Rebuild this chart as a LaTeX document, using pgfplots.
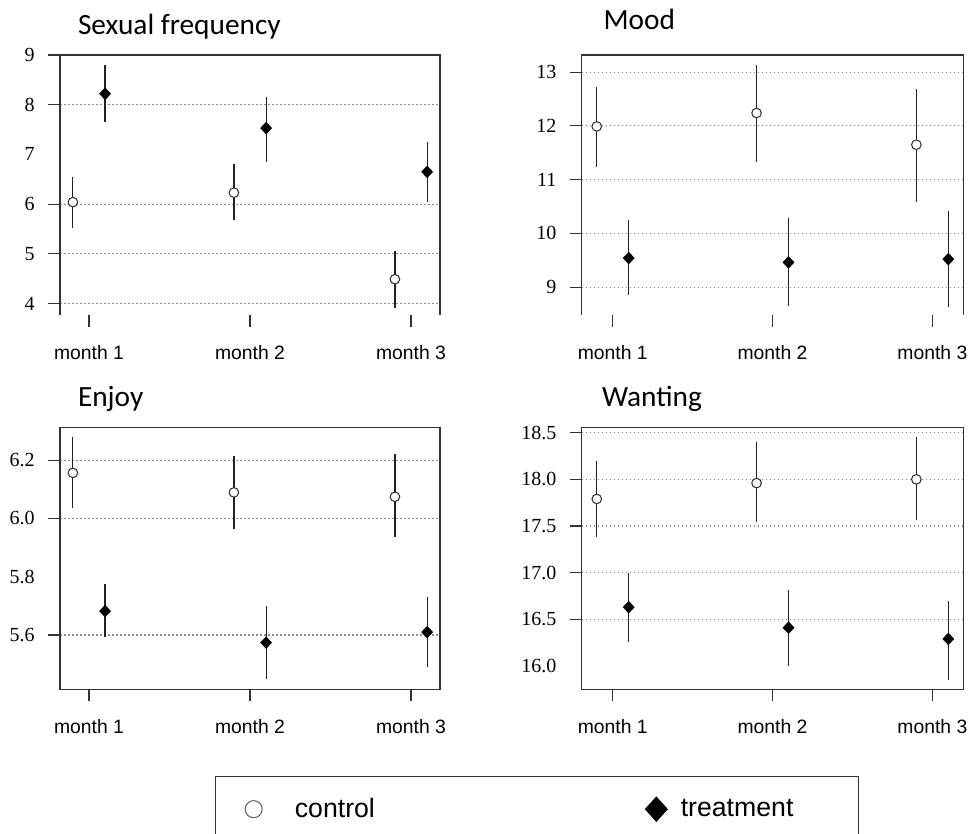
\documentclass[border=0pt]{standalone}
\usepackage{fontspec}
\setmainfont{Liberation Sans}
\newfontfamily\serifnum{Liberation Serif}
\newfontfamily\calib{Carlito}
\usepackage{pgfplots}
\usepackage{pgfplotstable}
\pgfplotsset{compat=1.18}
\definecolor{spine}{HTML}{333333}
\definecolor{gridc}{HTML}{8C8C8C}
\definecolor{ebar}{HTML}{222222}

% x, y, lo, hi
\pgfplotstableread{
x y lo hi
0.9 6.04 5.51 6.55
1.9 6.23 5.68 6.80
2.9 4.49 3.92 5.06
}\ctlA
\pgfplotstableread{
x y lo hi
1.1 8.22 7.65 8.80
2.1 7.53 6.85 8.16
3.1 6.65 6.05 7.24
}\trtA
\pgfplotstableread{
x y lo hi
0.9 11.99 11.23 12.73
1.9 12.24 11.33 13.14
2.9 11.65 10.58 12.69
}\ctlB
\pgfplotstableread{
x y lo hi
1.1 9.54 8.85 10.25
2.1 9.46 8.64 10.28
3.1 9.52 8.62 10.41
}\trtB
\pgfplotstableread{
x y lo hi
0.9 6.156 6.036 6.278
1.9 6.089 5.963 6.215
2.9 6.074 5.935 6.219
}\ctlC
\pgfplotstableread{
x y lo hi
1.1 5.682 5.592 5.774
2.1 5.574 5.448 5.699
3.1 5.610 5.491 5.729
}\trtC
\pgfplotstableread{
x y lo hi
0.9 17.79 17.38 18.20
1.9 17.96 17.54 18.40
2.9 18.00 17.56 18.45
}\ctlD
\pgfplotstableread{
x y lo hi
1.1 16.63 16.26 17.00
2.1 16.41 16.00 16.81
3.1 16.29 15.85 16.70
}\trtD

\pgfplotsset{
  panel/.style={
    scale only axis, anchor=south west, clip=false,
    xtick={1,2,3}, xticklabels={month 1, month 2, month 3},
    xtick pos=bottom, ytick pos=left,
    tick align=outside, major tick length=9pt,
    every tick/.style={spine, line width=0.8pt},
    ymajorgrids, grid style={gridc, line width=0.8pt, dash pattern=on 1.2pt off 1.8pt},
    axis line style={spine, line width=0.8pt},
    /pgf/number format/assume math mode=true,
    xticklabel style={font=\fontsize{14.5}{17}\selectfont, anchor=base, inner sep=0pt, yshift=-24.4pt},
    yticklabel style={font=\serifnum\fontsize{15}{17}\selectfont, inner sep=0pt, xshift=-9.75pt},
    extra y tick style={grid=none, major tick length=0pt, yticklabel style={xshift=-9pt}},
  },
  onedec/.style={/pgf/number format/fixed, /pgf/number format/fixed zerofill, /pgf/number format/precision=1},
  ebars/.style={only marks, mark=none, error bars/.cd, y dir=both, y explicit, error mark=none,
    error bar style={ebar, line width=0.9pt}, /pgfplots/.cd},
  ctrl/.style={only marks, mark=*, mark size=3.6pt,
    mark options={draw=spine, fill=white, line width=0.8pt}},
  trt/.style={only marks, mark=diamond*, mark size=4.4pt,
    mark options={draw=black, fill=black, xscale=1.25}},
}

\begin{document}
\begin{tikzpicture}
\useasboundingbox (0,0) rectangle (729.75pt,624.75pt);

% Panel 1: Sexual frequency
\begin{axis}[panel, at={(45pt,388.5pt)}, width=285pt, height=195pt,
  xmin=0.82, xmax=3.18, ymin=3.77, ymax=9.0,
  ytick={4,5,6,8,9}, extra y ticks={7},
  axis line style={draw=none}]
\draw[spine, line width=0.8pt] (rel axis cs:0,0) -- (rel axis cs:0,1) -- (rel axis cs:1,1) -- (rel axis cs:1,0);
\addplot[ebars] table[x=x, y=y, y error plus expr=\thisrow{hi}-\thisrow{y}, y error minus expr=\thisrow{y}-\thisrow{lo}] {\ctlA};
\addplot[ebars] table[x=x, y=y, y error plus expr=\thisrow{hi}-\thisrow{y}, y error minus expr=\thisrow{y}-\thisrow{lo}] {\trtA};
\addplot[ctrl] table[x=x,y=y] {\ctlA};
\addplot[trt] table[x=x,y=y] {\trtA};
\end{axis}

% Panel 2: Mood
\begin{axis}[panel, at={(436.3pt,388.5pt)}, width=286.2pt, height=195pt,
  xmin=0.806, xmax=3.194, ymin=8.48, ymax=13.32,
  ytick={9,10,11,12,13},
  axis line style={draw=none}]
\draw[spine, line width=0.8pt] (rel axis cs:0,0) -- (rel axis cs:0,1) -- (rel axis cs:1,1) -- (rel axis cs:1,0);
\addplot[ebars] table[x=x, y=y, y error plus expr=\thisrow{hi}-\thisrow{y}, y error minus expr=\thisrow{y}-\thisrow{lo}] {\ctlB};
\addplot[ebars] table[x=x, y=y, y error plus expr=\thisrow{hi}-\thisrow{y}, y error minus expr=\thisrow{y}-\thisrow{lo}] {\trtB};
\addplot[ctrl] table[x=x,y=y] {\ctlB};
\addplot[trt] table[x=x,y=y] {\trtB};
\end{axis}

% Panel 3: Enjoy
\begin{axis}[panel, onedec, at={(45pt,107.8pt)}, width=285pt, height=196.2pt,
  xmin=0.82, xmax=3.18, ymin=5.414, ymax=6.311,
  ytick={5.6,6.0,6.2}, extra y ticks={5.8},
  legend columns=2,
  legend style={at={(0.4079,-0.3314)}, anchor=north west, draw=spine, line width=0.8pt,
    inner xsep=22.2pt, inner ysep=15.5pt, font=\fontsize{20}{24}\selectfont,
    nodes={inner sep=0pt}, column sep=0pt},
  legend cell align=left]
\addplot[forget plot, ebars] table[x=x, y=y, y error plus expr=\thisrow{hi}-\thisrow{y}, y error minus expr=\thisrow{y}-\thisrow{lo}] {\ctlC};
\addplot[forget plot, ebars] table[x=x, y=y, y error plus expr=\thisrow{hi}-\thisrow{y}, y error minus expr=\thisrow{y}-\thisrow{lo}] {\trtC};
\addplot[ctrl, forget plot] table[x=x,y=y] {\ctlC};
\addplot[trt, forget plot] table[x=x,y=y] {\trtC};
\addlegendimage{only marks, mark=*, mark size=6.4pt, mark options={draw=gray!80!black, fill=white, line width=0.8pt}}
\addlegendentry{\hspace{24.5pt}\makebox[263pt][l]{control}}
\addlegendimage{only marks, mark=diamond*, mark size=9pt, mark options={draw=black, fill=black, xscale=1.2}}
\addlegendentry{\hspace{10.24pt}\makebox[111pt][l]{treatment}}
\end{axis}

% Panel 4: Wanting
\begin{axis}[panel, onedec, at={(436.3pt,107.8pt)}, width=286.2pt, height=196.2pt,
  xmin=0.806, xmax=3.194, ymin=15.75, ymax=18.554,
  ytick={16.5,17.0,17.5,18.0,18.5}, extra y ticks={16.0}]
\addplot[ebars] table[x=x, y=y, y error plus expr=\thisrow{hi}-\thisrow{y}, y error minus expr=\thisrow{y}-\thisrow{lo}] {\ctlD};
\addplot[ebars] table[x=x, y=y, y error plus expr=\thisrow{hi}-\thisrow{y}, y error minus expr=\thisrow{y}-\thisrow{lo}] {\trtD};
\addplot[ctrl] table[x=x,y=y] {\ctlD};
\addplot[trt] table[x=x,y=y] {\trtD};
\end{axis}

% titles
\node[anchor=base west, inner sep=0pt, font=\calib\fontsize{22}{26}\selectfont] at (58.3pt,599.0pt) {Sexual frequency};
\node[anchor=base west, inner sep=0pt, font=\calib\fontsize{22}{26}\selectfont] at (452.5pt,602.8pt) {Mood};
\node[anchor=base west, inner sep=0pt, font=\calib\fontsize{22}{26}\selectfont] at (58.3pt,319.7pt) {Enjoy};
\node[anchor=base west, inner sep=0pt, font=\calib\fontsize{22}{26}\selectfont] at (451.3pt,320.0pt) {Wanting};
\end{tikzpicture}
\end{document}
